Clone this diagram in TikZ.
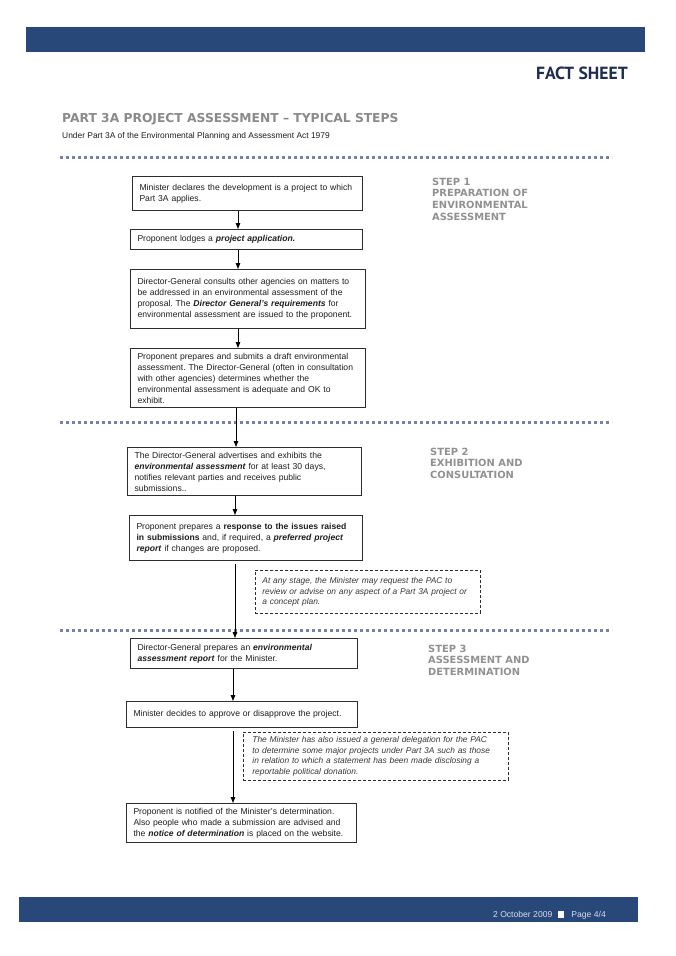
\documentclass[tikz,border=0pt]{standalone}
\usepackage{fontspec}
\setmainfont{Liberation Sans}
\newfontfamily\verd{DejaVu Sans}
\newfontfamily\ptsans{PT Sans}
\usetikzlibrary{arrows.meta}
\definecolor{navy}{RGB}{40,72,122}
\definecolor{dotblue}{RGB}{118,128,168}
\definecolor{titlegrey}{RGB}{138,138,138}
\definecolor{stepgrey}{RGB}{145,145,145}
\definecolor{factnavy}{RGB}{30,45,80}
\definecolor{boxline}{RGB}{45,45,45}
\definecolor{textdark}{RGB}{30,30,30}
\definecolor{notetext}{RGB}{55,55,55}
\definecolor{foottext}{RGB}{215,220,232}
\newcommand{\bi}[1]{\textbf{\textit{#1}}}
\frenchspacing
\begin{document}
\begin{tikzpicture}[x=1pt,y=-1pt,
  box/.style={draw=boxline, line width=1pt, inner xsep=7pt, inner ysep=0pt,
    anchor=north west, align=left, text=textdark,
    font=\fontsize{8.6}{11}\selectfont},
  note/.style={draw=boxline, line width=0.8pt, dash pattern=on 3pt off 2pt,
    inner xsep=7pt, inner ysep=0pt, anchor=north west, align=left, text=notetext,
    font=\fontsize{8.4}{10.6}\selectfont\itshape},
  arr/.style={draw=black, line width=0.9pt, -{Triangle[length=6pt,width=4.5pt]}},
  stepl/.style={anchor=north west, inner sep=0pt, align=left, text=stepgrey,
    font=\verd\bfseries\fontsize{9.9}{11.7}\selectfont},
  sepline/.style={draw=dotblue, line width=3pt, dash pattern=on 3pt off 3pt}]
\useasboundingbox (0,0) rectangle (676,956);
\fill[white] (0,0) rectangle (676,956);
% header and footer bars
\fill[navy] (26,27) rectangle (645,52);
\fill[navy] (19,897) rectangle (638,922);
\node[anchor=base east, inner sep=0pt, text=factnavy, font=\ptsans\bfseries\fontsize{17.6}{18}\selectfont] (fact) at (628,79.5) {FACT SHEET};
\node[anchor=base west, inner sep=0pt, text=titlegrey, font=\verd\bfseries\fontsize{12.3}{14}\selectfont] (title) at (62,122.5) {PART 3A PROJECT ASSESSMENT – TYPICAL STEPS};
\node[anchor=base west, inner sep=0pt, text=textdark, font=\fontsize{8.4}{10}\selectfont] (sub) at (62,138) {Under Part 3A of the Environmental Planning and Assessment Act 1979};
\node[anchor=base east, inner sep=0pt, text=foottext, font=\fontsize{8.6}{10}\selectfont] (foot) at (606,917.5) {2 October 2009\hspace{6pt}\textcolor{white}{\rule{6pt}{7pt}}\hspace{7pt}Page 4/4};
% separators
\draw[sepline] (60,157) -- (612,157);
\draw[sepline] (60,422) -- (612,422);
\draw[sepline] (60,630) -- (612,630);
% step labels
\node[stepl] (s1) at (432,177.5) {STEP 1\\PREPARATION OF\\ENVIRONMENTAL\\ASSESSMENT};
\node[stepl] (s2) at (430,447.5) {STEP 2\\EXHIBITION AND\\CONSULTATION};
\node[stepl] (s3) at (428,644.5) {STEP 3\\ASSESSMENT AND\\DETERMINATION};
% boxes
\node[box, minimum width=230pt, text width=216pt, minimum height=34pt] (b1) at (132,176)
  {Minister declares the development is a project to which\\Part 3A applies.\\[4pt]};
\node[box, minimum width=232pt, text width=218pt, minimum height=20pt] (b2) at (130,229)
  {Proponent lodges a \bi{project application.}};
\node[box, minimum width=235pt, text width=221pt, minimum height=59pt] (b3) at (130,269)
  {Director-General consults other agencies on matters to\\be addressed in an environmental assessment of the\\proposal. The \bi{Director General’s requirements} for\\environmental assessment are issued to the proponent.\\[4pt]};
\node[box, minimum width=235pt, text width=221pt, minimum height=59pt] (b4) at (130,348)
  {Proponent prepares and submits a draft environmental\\assessment. The Director-General (often in consultation\\with other agencies) determines whether the\\environmental assessment is adequate and OK to\\exhibit.};
\node[box, minimum width=234pt, text width=220pt, minimum height=48pt] (b5) at (127,447)
  {The Director-General advertises and exhibits the\\\bi{environmental assessment} for at least 30 days,\\notifies relevant parties and receives public\\submissions..};
\node[box, minimum width=233pt, text width=219pt, minimum height=45pt] (b6) at (129,515)
  {Proponent prepares a \textbf{response to the issues raised}\\\textbf{in submissions} and, if required, a \bi{preferred project}\\\bi{report} if changes are proposed.};
\node[note, minimum width=225pt, text width=211pt, minimum height=43pt] (d1) at (255,570)
  {At any stage, the Minister may request the PAC to\\review or advise on any aspect of a Part 3A project or\\a concept plan.};
\node[box, minimum width=227pt, text width=213pt, minimum height=30pt] (b7) at (130,638)
  {Director-General prepares an \bi{environmental}\\\bi{assessment report} for the Minister.};
\node[box, minimum width=231pt, text width=217pt, minimum height=26pt] (b8) at (126,701)
  {Minister decides to approve or disapprove the project.\\[3pt]};
\node[note, inner xsep=9pt, minimum width=265pt, text width=247pt, minimum height=48pt] (d2) at (243,732)
  {The Minister has also issued a general delegation for the PAC\\to determine some major projects under Part 3A such as those\\in relation to which a statement has been made disclosing a\\reportable political donation.};
\node[box, minimum width=230pt, text width=216pt, minimum height=39pt] (b9) at (126,803)
  {Proponent is notified of the Minister’s determination.\\Also people who made a submission are advised and\\the \bi{notice of determination} is placed on the website.};
% arrow columns
\coordinate (ca) at (238,0);
\coordinate (cb) at (236,0);
\coordinate (cc) at (235,0);
\coordinate (cd) at (233,0);
\draw[arr] (b1.south -| ca) -- (b2.north -| ca);
\draw[arr] (b2.south -| ca) -- (b3.north -| ca);
\draw[arr] (b3.south -| ca) -- (b4.north -| ca);
\draw[arr] (b4.south -| cb) -- (b5.north -| cb);
\draw[arr] (b5.south -| cc) -- (b6.north -| cc);
\draw[arr, shorten <=3pt] (b6.south -| cc) -- (b7.north -| cc);
\draw[arr] (b7.south -| cd) -- (b8.north -| cd);
\draw[arr, shorten <=3pt] (b8.south -| cd) -- (b9.north -| cd);
\end{tikzpicture}
\end{document}
